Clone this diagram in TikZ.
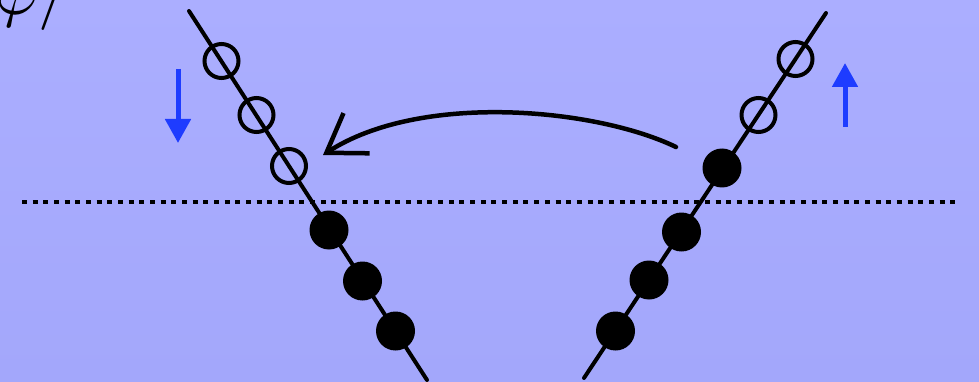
\documentclass[tikz,border=0pt]{standalone}
\usetikzlibrary{arrows.meta}
\definecolor{bgtop}{RGB}{171,174,255}
\definecolor{bgbot}{RGB}{163,167,251}
\definecolor{spinblue}{RGB}{30,60,255}
\begin{document}
\begin{tikzpicture}[x=1pt,y=-1pt,
  hole/.style={circle,draw=black,line width=4pt,minimum size=34pt,inner sep=0pt},
  particle/.style={circle,fill=black,minimum size=39pt,inner sep=0pt},
  band/.style={line width=4pt,line cap=round},
  fermi/.style={line width=4.5pt,dash pattern=on 5pt off 5.67pt},
  spin/.style={draw=spinblue,line width=5pt,-{Triangle[length=24pt,width=25pt]}},
  hop/.style={line width=4.5pt,line cap=round,-{Straight Barb[length=36pt,width=48pt]}}]
\useasboundingbox (0,0) rectangle (979,382);
\fill[top color=bgtop,bottom color=bgbot] (0,0) rectangle (979,382);
\clip (0,0) rectangle (979,382);
% label, cut by the frame
\node[anchor=base west,inner sep=0pt] (lab) at (-4,15) {\scalebox{6.4}{$\varphi/$}};
% Fermi level
\coordinate (F1) at (22,202);
\coordinate (F2) at (958,202);
\draw[fermi] (F1) -- (F2);
% left band
\coordinate (L1) at (189,11);
\coordinate (L2) at (427,380);
\draw[band] (L1) -- (L2);
\node[hole] (lh1) at (221.5,61) {};
\node[hole] (lh2) at (256.5,115) {};
\node[hole] (lh3) at (289,166) {};
\node[particle] (lp1) at (329,230) {};
\node[particle] (lp2) at (362.5,281) {};
\node[particle] (lp3) at (395.5,331) {};
% right band
\coordinate (R1) at (584,378);
\coordinate (R2) at (826,13);
\draw[band] (R1) -- (R2);
\node[hole] (rh1) at (795.5,59) {};
\node[hole] (rh2) at (758.5,115) {};
\node[particle] (rp1) at (722,168) {};
\node[particle] (rp2) at (681.5,232) {};
\node[particle] (rp3) at (649,280) {};
\node[particle] (rp4) at (615.5,331) {};
% transfer arrow
\coordinate (A1) at (676,147);
\coordinate (A2) at (323,155);
\draw[hop] (A1) .. controls (595,108) and (420,92) .. (A2);
% spin arrows
\coordinate (S1a) at (178,69);
\coordinate (S1b) at (178,143);
\draw[spin] (S1a) -- (S1b);
\coordinate (S2a) at (845,127);
\coordinate (S2b) at (845,63);
\draw[spin] (S2a) -- (S2b);
\end{tikzpicture}
\end{document}
